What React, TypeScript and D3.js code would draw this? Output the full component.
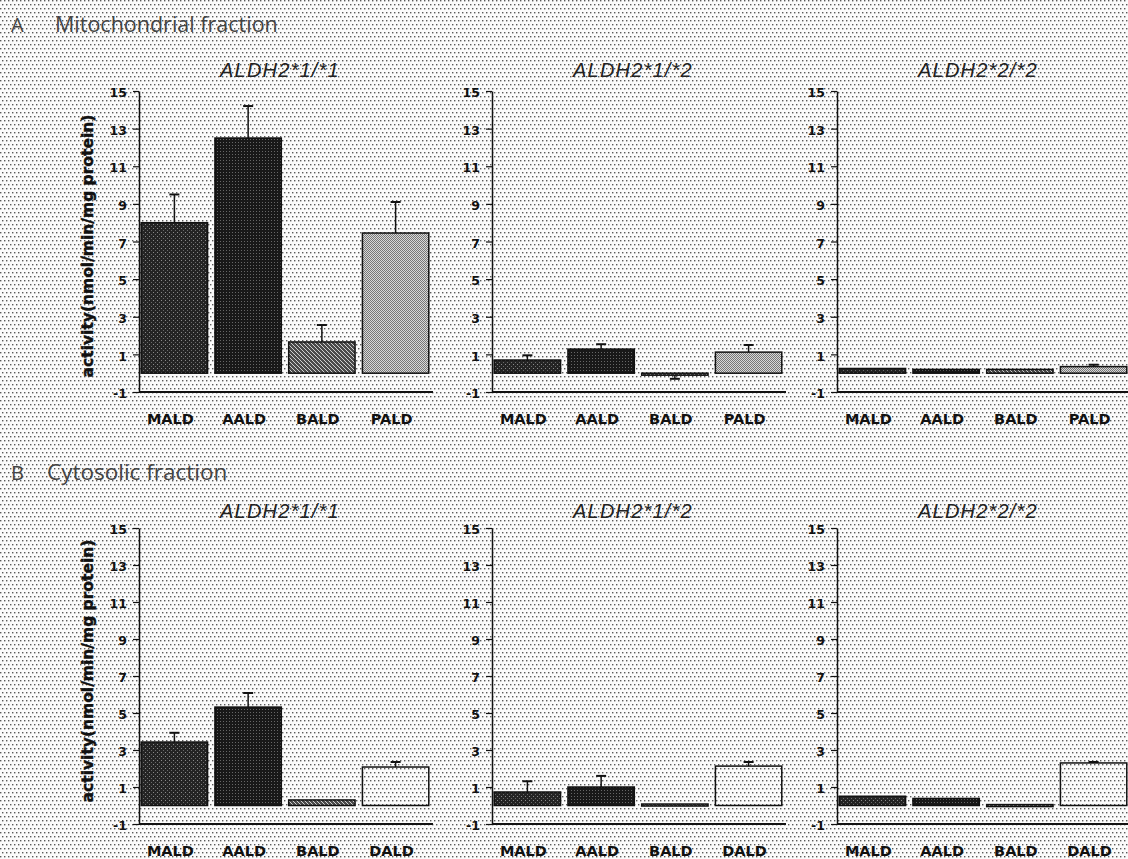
import React, { useEffect, useRef } from 'react';
import * as d3 from 'd3';

// panel titles and categories
const genotypes = ['ALDH2*1/*1', 'ALDH2*1/*2', 'ALDH2*2/*2'];
const mitoCats = ['MALD', 'AALD', 'BALD', 'PALD'];
const cytoCats = ['MALD', 'AALD', 'BALD', 'DALD'];
const yTicks = [-1, 1, 3, 5, 7, 9, 11, 13, 15];
const yLabel = 'activity(nmol/min/mg protein)';

// A. mitochondrial fraction (mean, SE)
const mitoMean11 = [8.0, 12.5, 1.66, 7.45];
const mitoErr11 = [1.5, 1.7, 0.9, 1.65];
const mitoMean12 = [0.7, 1.28, -0.1, 1.12];
const mitoErr12 = [0.25, 0.26, 0.2, 0.38];
const mitoMean22 = [0.25, 0.2, 0.2, 0.35];
const mitoErr22 = [0, 0, 0, 0.1];

// B. cytosolic fraction (mean, SE)
const cytoMean11 = [3.43, 5.32, 0.3, 2.08];
const cytoErr11 = [0.5, 0.76, 0, 0.27];
const cytoMean12 = [0.73, 1.0, 0.08, 2.13];
const cytoErr12 = [0.58, 0.6, 0, 0.22];
const cytoMean22 = [0.5, 0.38, 0.05, 2.3];
const cytoErr22 = [0, 0, 0, 0.05];

const fills: Record<string, string> = {
  MALD: 'url(#texDark)',
  AALD: 'url(#texDarker)',
  BALD: 'url(#hatch)',
  PALD: 'url(#checker)',
  DALD: 'none',
};

export default function App() {
  const ref = useRef<SVGSVGElement>(null);

  useEffect(() => {
    const svg = d3.select(ref.current);
    svg.selectAll('*').remove();

    const defs = svg.append('defs');
    // dotted paper background
    const dots = defs.append('pattern').attr('id', 'dots').attr('width', 8).attr('height', 8).attr('patternUnits', 'userSpaceOnUse');
    dots.append('rect').attr('width', 8).attr('height', 8).attr('fill', '#fbfbfb');
    [[0, 0], [4, 0], [2, 4], [6, 4]].forEach(([x, y]) =>
      dots.append('rect').attr('x', x).attr('y', y).attr('width', 1.4).attr('height', 1.4).attr('fill', '#5a5a5a'));

    const dark = defs.append('pattern').attr('id', 'texDark').attr('width', 4).attr('height', 4).attr('patternUnits', 'userSpaceOnUse');
    dark.append('rect').attr('width', 4).attr('height', 4).attr('fill', '#242424');
    dark.append('rect').attr('x', 1).attr('y', 0).attr('width', 1).attr('height', 1).attr('fill', '#8a8a8a');
    dark.append('rect').attr('x', 3).attr('y', 2).attr('width', 1).attr('height', 1).attr('fill', '#6a6a6a');

    const darker = defs.append('pattern').attr('id', 'texDarker').attr('width', 3).attr('height', 3).attr('patternUnits', 'userSpaceOnUse');
    darker.append('rect').attr('width', 3).attr('height', 3).attr('fill', '#181818');
    darker.append('rect').attr('x', 1).attr('y', 1).attr('width', 1).attr('height', 1).attr('fill', '#666');

    const hatch = defs.append('pattern').attr('id', 'hatch').attr('width', 4).attr('height', 4).attr('patternUnits', 'userSpaceOnUse');
    hatch.append('rect').attr('width', 4).attr('height', 4).attr('fill', '#4a4a4a');
    hatch.append('path').attr('d', 'M0,0 L4,4 M-1,3 L1,5 M3,-1 L5,1').attr('stroke', '#cfcfcf').attr('stroke-width', 1);

    const checker = defs.append('pattern').attr('id', 'checker').attr('width', 2).attr('height', 2).attr('patternUnits', 'userSpaceOnUse');
    checker.append('rect').attr('width', 2).attr('height', 2).attr('fill', '#d8d8d8');
    checker.append('rect').attr('width', 1).attr('height', 1).attr('fill', '#777');
    checker.append('rect').attr('x', 1).attr('y', 1).attr('width', 1).attr('height', 1).attr('fill', '#777');

    svg.append('rect').attr('width', 1128).attr('height', 859).attr('fill', 'url(#dots)');

    const colX = [139, 492, 837];
    const panelW = 292;
    const rows = [
      { header: 'Mitochondrial fraction', letter: 'A', hy: 32, hx: 55, hs: 21.5, titleY: 77, top: 91, bottom: 392, labY: 424, lblY: 246, cats: mitoCats,
        means: [mitoMean11, mitoMean12, mitoMean22], errs: [mitoErr11, mitoErr12, mitoErr22] },
      { header: 'Cytosolic fraction', letter: 'B', hy: 480, hx: 47, hs: 22.5, titleY: 518, top: 528, bottom: 824, labY: 856, lblY: 671, cats: cytoCats,
        means: [cytoMean11, cytoMean12, cytoMean22], errs: [cytoErr11, cytoErr12, cytoErr22] },
    ];

    rows.forEach(row => {
      svg.append('text').attr('x', 11).attr('y', row.hy).attr('font-family', 'Open Sans').attr('font-weight', 400)
        .attr('font-size', 20).attr('fill', '#444').text(row.letter);
      svg.append('text').attr('x', row.hx).attr('y', row.hy).attr('font-family', 'Open Sans').attr('font-weight', 400)
        .attr('font-size', row.hs).attr('fill', '#444').text(row.header);

      const y = d3.scaleLinear().domain([-1, 15]).range([row.bottom, row.top]);

      genotypes.forEach((g, gi) => {
        const x0 = colX[gi];
        const x = d3.scaleBand().domain(row.cats).range([x0, x0 + panelW]).paddingInner(0.1).paddingOuter(0.03);
        const p = svg.append('g');

        p.append('text').attr('x', x0 + panelW / 2 - 5).attr('y', row.titleY).attr('text-anchor', 'middle')
          .attr('font-family', 'Liberation Sans').attr('font-style', 'italic').attr('font-size', 20)
          .attr('letter-spacing', 1.2).attr('fill', '#222').text(g);

        if (gi === 0) {
          p.append('text').attr('transform', `translate(93, ${row.lblY}) rotate(-90)`)
            .attr('text-anchor', 'middle').attr('font-family', 'DejaVu Sans').attr('font-weight', 'bold')
            .attr('font-size', 15.5).attr('fill', '#111').attr('stroke', '#111').attr('stroke-width', 0.4)
            .text(yLabel);
        }

        const means = row.means[gi];
        const errs = row.errs[gi];

        p.selectAll('rect.bar').data(row.cats).join('rect').attr('class', 'bar')
          .attr('x', d => x(d)!)
          .attr('width', x.bandwidth())
          .attr('y', (d, i) => Math.min(y(means[i]), y(0)))
          .attr('height', (d, i) => Math.max(Math.abs(y(0) - y(means[i])), 2))
          .attr('fill', d => fills[d])
          .attr('stroke', '#111').attr('stroke-width', 1.5);

        // error bars
        row.cats.forEach((c, i) => {
          if (!errs[i]) return;
          const cx = x(c)! + x.bandwidth() / 2;
          const sign = means[i] < 0 ? -1 : 1;
          const yTop = y(means[i] + sign * errs[i]);
          p.append('line').attr('x1', cx).attr('x2', cx).attr('y1', y(means[i])).attr('y2', yTop)
            .attr('stroke', '#111').attr('stroke-width', 1.5);
          p.append('line').attr('x1', cx - 5).attr('x2', cx + 5).attr('y1', yTop).attr('y2', yTop)
            .attr('stroke', '#111').attr('stroke-width', 2);
        });

        const ax = p.append('g').attr('transform', `translate(${x0},0)`)
          .call(d3.axisLeft(y).tickValues(yTicks).tickSize(6).tickSizeOuter(0).tickPadding(6).tickFormat(d => String(d)));
        ax.select('.domain').attr('stroke', '#111').attr('stroke-width', 1.5);
        ax.selectAll('.tick line').attr('stroke', '#111').attr('stroke-width', 1.2);
        ax.selectAll('text').attr('font-family', 'DejaVu Sans').attr('font-weight', 'bold').attr('font-size', 12.5)
          .attr('fill', '#111').attr('dy', '0.45em');

        p.append('line').attr('x1', x0).attr('x2', x0 + panelW + 2).attr('y1', row.bottom).attr('y2', row.bottom)
          .attr('stroke', '#111').attr('stroke-width', 2);

        p.selectAll('text.cat').data(row.cats).join('text').attr('class', 'cat')
          .attr('x', d => x(d)! + x.bandwidth() / 2 - 4).attr('y', row.labY).attr('text-anchor', 'middle')
          .attr('font-family', 'DejaVu Sans').attr('font-weight', 'bold').attr('font-size', 14.5)
          .attr('fill', '#111').text(d => d);
      });
    });
  }, []);

  return (
    <svg ref={ref} width={1128} height={859} style={{ position: 'absolute', left: 0, top: 0, background: '#fff' }} />
  );
}
